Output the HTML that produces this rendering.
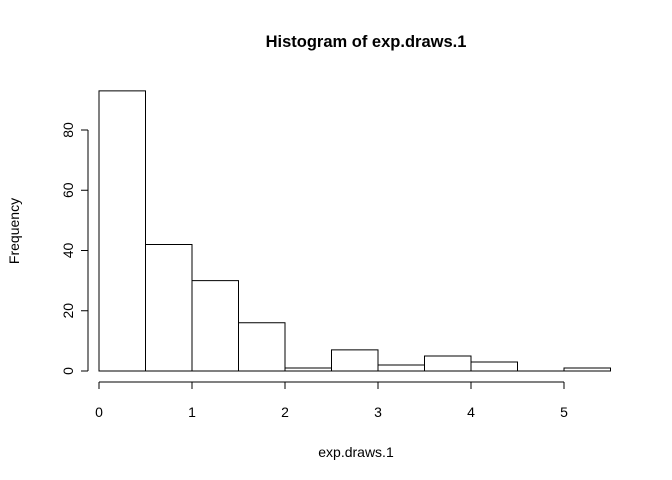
<!DOCTYPE html>
<html><head><meta charset="utf-8"><style>body{margin:0;background:#fff}svg{display:block;font-family:"Liberation Sans",sans-serif}</style></head>
<body>
<svg id="chart" width="672" height="480" viewBox="0 0 672 480">
<text x="366" y="47" text-anchor="middle" font-size="16.5" font-weight="bold">Histogram of exp.draws.1</text>
<text x="356" y="457" text-anchor="middle" font-size="14">exp.draws.1</text>
<text transform="translate(19,231) rotate(-90)" text-anchor="middle" font-size="14">Frequency</text>
<g id="bars"></g><g id="axes" stroke="#000" fill="none"></g><g id="labels" font-size="14"></g>
</svg>
<script>
const binStarts=[0,0.5,1,1.5,2,2.5,3,3.5,4,4.5,5];
const counts=[93,42,30,16,1,7,2,5,3,0,1];
const xTicks=[0,1,2,3,4,5];
const yTicks=[0,20,40,60,80];
const binWidth=0.5;
const NS="http://www.w3.org/2000/svg";
const xs=v=>99+v*93;
const ys=v=>371-v*241/80;
function mk(t,a,p){const e=document.createElementNS(NS,t);for(const k in a)e.setAttribute(k,a[k]);p.appendChild(e);return e;}
const bars=document.getElementById('bars'),axes=document.getElementById('axes'),labels=document.getElementById('labels');
binStarts.forEach((b,i)=>{
 const x0=xs(b),x1=xs(b+binWidth),y0=ys(0),y1=ys(counts[i]);
 const r=mk('path',{d:`M${x0},${y0}L${x1},${y0}L${x1},${y1}L${x0},${y1}Z`,fill:'#fff',stroke:'#000','stroke-width':1},bars);
 
 
});
const xl=mk('line',{x1:xs(xTicks[0]),x2:xs(xTicks[xTicks.length-1]),y1:382,y2:382},axes);


xTicks.forEach(t=>{
 mk('line',{x1:xs(t),x2:xs(t),y1:382,y2:389},axes);
 const tx=mk('text',{x:xs(t),y:417,'text-anchor':'middle'},labels);tx.textContent=t;
 
 
});
const yl=mk('line',{x1:88,x2:88,y1:ys(yTicks[0]),y2:ys(yTicks[yTicks.length-1])},axes);


yTicks.forEach(t=>{
 mk('line',{x1:81,x2:88,y1:ys(t),y2:ys(t)},axes);
 const tx=mk('text',{transform:`translate(73,${ys(t)}) rotate(-90)`,'text-anchor':'middle'},labels);tx.textContent=t;
 
 
});
</script>
</body></html>
